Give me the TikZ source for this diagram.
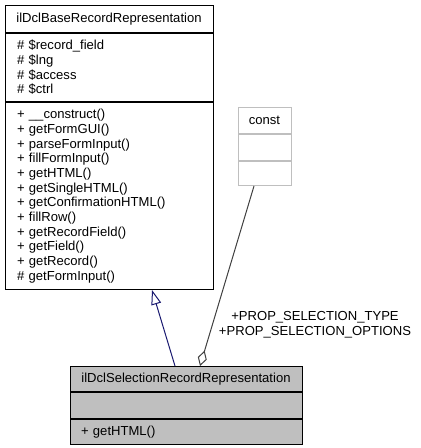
\documentclass[tikz,border=0pt]{standalone}
\usepackage{fontspec}
\setmainfont{Liberation Sans}
\usetikzlibrary{arrows.meta,positioning}
\definecolor{navyline}{HTML}{191970}
\definecolor{darkline}{HTML}{404040}
\tikzstyle{cls}=[rectangle, draw=black, fill=white, line width=0.75pt, inner sep=0pt, anchor=north, font=\fontsize{9.8}{11}\selectfont]
\tikzstyle{clsgrey}=[cls, fill=black!25]
\tikzstyle{clsconst}=[cls, draw=black!25]
\tikzstyle{members}=[align=left]
\tikzstyle{annot}=[align=center, font=\fontsize{9.8}{11}\selectfont]

\begin{document}
\begin{tikzpicture}[x=0.75pt, y=-0.75pt]
	\useasboundingbox (0,0) rectangle (420,448);

	% base class
	\node[cls, minimum width=156pt, minimum height=20.25pt](base) at (109,5){ilDclBaseRecordRepresentation};
	\node[cls, members, minimum width=156pt, minimum height=51pt, text width=138pt](baseAttr) at (base.south)
		{\# \$record\_field\\\# \$lng\\\# \$access\\\# \$ctrl};
	\node[cls, members, minimum width=156pt, minimum height=140.25pt, text width=138pt](baseMeth) at (baseAttr.south)
		{+ \_\_construct()\\+ getFormGUI()\\+ parseFormInput()\\+ fillFormInput()\\+ getHTML()\\+ getSingleHTML()\\+ getConfirmationHTML()\\+ fillRow()\\+ getRecordField()\\+ getField()\\+ getRecord()\\\# getFormInput()};

	% const
	\node[clsconst, minimum width=39.75pt, minimum height=19.5pt](const) at (264.5,107){const};
	\node[clsconst, minimum width=39.75pt, minimum height=19.5pt](constAttr) at (const.south){};
	\node[clsconst, minimum width=39.75pt, minimum height=18pt](constMeth) at (constAttr.south){};

	% derived class
	\node[clsgrey, minimum width=174pt, minimum height=18.75pt](derived) at (186,366){ilDclSelectionRecordRepresentation};
	\node[clsgrey, minimum width=174pt, minimum height=19.5pt](derivedAttr) at (derived.south){};
	\node[clsgrey, members, minimum width=174pt, minimum height=18.75pt, text width=157.5pt](derivedMeth) at (derivedAttr.south){+ getHTML()};

	% connectors
	\draw[navyline, line width=0.75pt, -{Triangle[open, length=11pt, width=7.5pt]}]
		([xshift=-8.25pt]derived.north) -- ([xshift=32.25pt]baseMeth.south);
	\draw[darkline, line width=0.75pt, {Diamond[open, length=12pt, width=7pt]}-]
		([xshift=10.5pt]derived.north) -- ([xshift=-7.875pt]constMeth.south);
	\node[annot](aggrLabel) at (315,325){+PROP\_SELECTION\_TYPE\\+PROP\_SELECTION\_OPTIONS};
\end{tikzpicture}
\end{document}
